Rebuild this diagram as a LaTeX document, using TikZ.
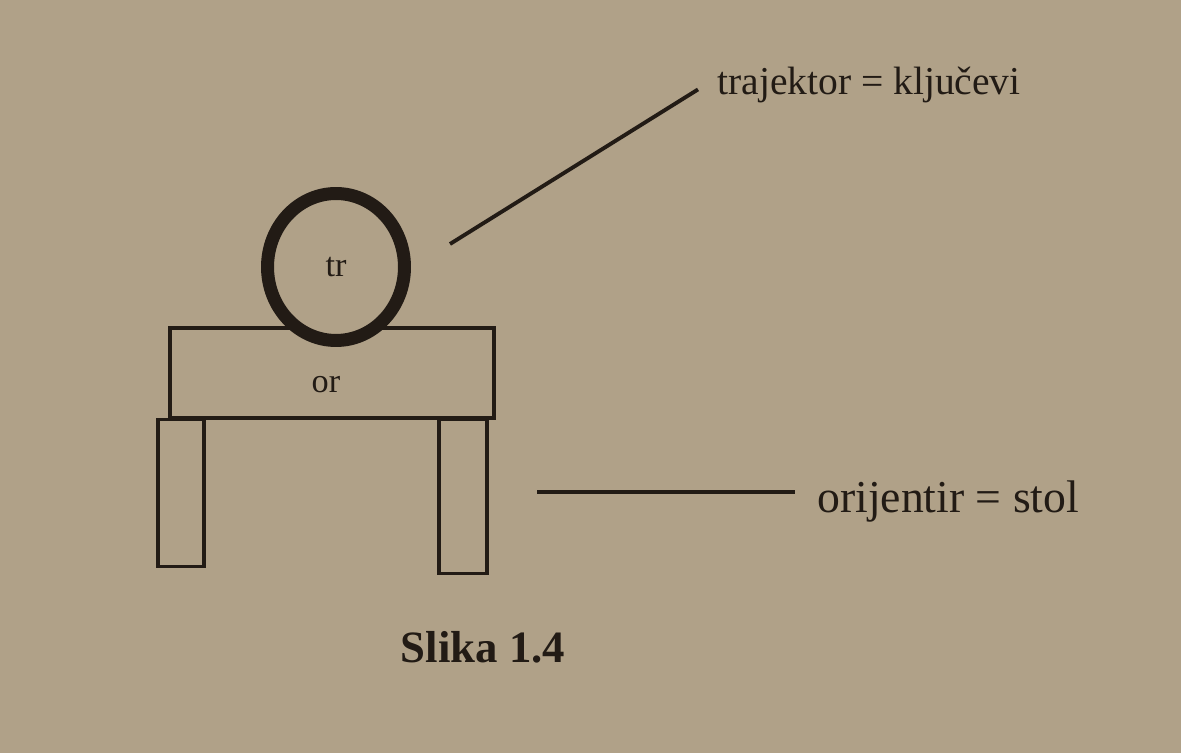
\documentclass[tikz,border=0pt]{standalone}
\usepackage{fontspec}
\setmainfont{Liberation Serif}
\usetikzlibrary{shapes,positioning}

\definecolor{paper}{RGB}{176,161,136}
\definecolor{ink}{RGB}{34,27,21}

\begin{document}
\begin{tikzpicture}[
			x=0.02cm, y=-0.02cm,
			part/.style={rectangle, draw=ink, line width=1.8pt, inner sep=0pt},
			ring/.style={ellipse, draw=ink, fill=paper, line width=0.26cm, inner sep=0pt, minimum width=2.74cm, minimum height=2.94cm},
			conn/.style={draw=ink, line width=2.2pt},
			note/.style={text=ink, inner sep=0pt},
			caption/.style={text=ink, inner sep=0pt, font=\fontsize{25.5}{30}\bfseries}
		]
		% Paper
		\fill[paper] (0,0) rectangle (1181,753);
		\useasboundingbox (0,0) rectangle (1181,753);

		% Table (orijentir)
		\node[part, minimum width=6.48cm, minimum height=1.8cm] (top) at (332,373) {};
		\node[part, anchor=north, minimum width=0.92cm, minimum height=2.94cm] (legl) at (181,418) {};
		\node[part, anchor=north, minimum width=0.96cm, minimum height=3.08cm] (legr) at (463,418) {};
		\node[note, anchor=base, font=\fontsize{19.5}{23}\selectfont] (orlbl) at (326,393) {or};

		% Keys (trajektor)
		\node[ring] (tr) at (336,267) {};
		\node[note, anchor=base, font=\fontsize{19.5}{23}\selectfont] (trlbl) at (336,277) {tr};

		% Annotations
		\node[note, anchor=base west, font=\fontsize{22.5}{27}\selectfont] (trajlbl) at (717,95) {trajektor = ključevi};
		\node[note, anchor=base west, font=\fontsize{26}{31}\selectfont] (orijlbl) at (817,513) {orijentir = stol};
		\coordinate (trpt) at (450,244);
		\coordinate (orpt) at (537,492);

		% Connections
		\draw[conn] (trpt) -- ([xshift=-0.38cm, yshift=-0.08cm]trajlbl.west);
		\draw[conn] (orpt) -- ([xshift=-0.44cm]orpt -| orijlbl.west);

		% Caption
		\node[caption, anchor=base] (cap) at (483,662) {Slika 1.4};

	\end{tikzpicture}
\end{document}
